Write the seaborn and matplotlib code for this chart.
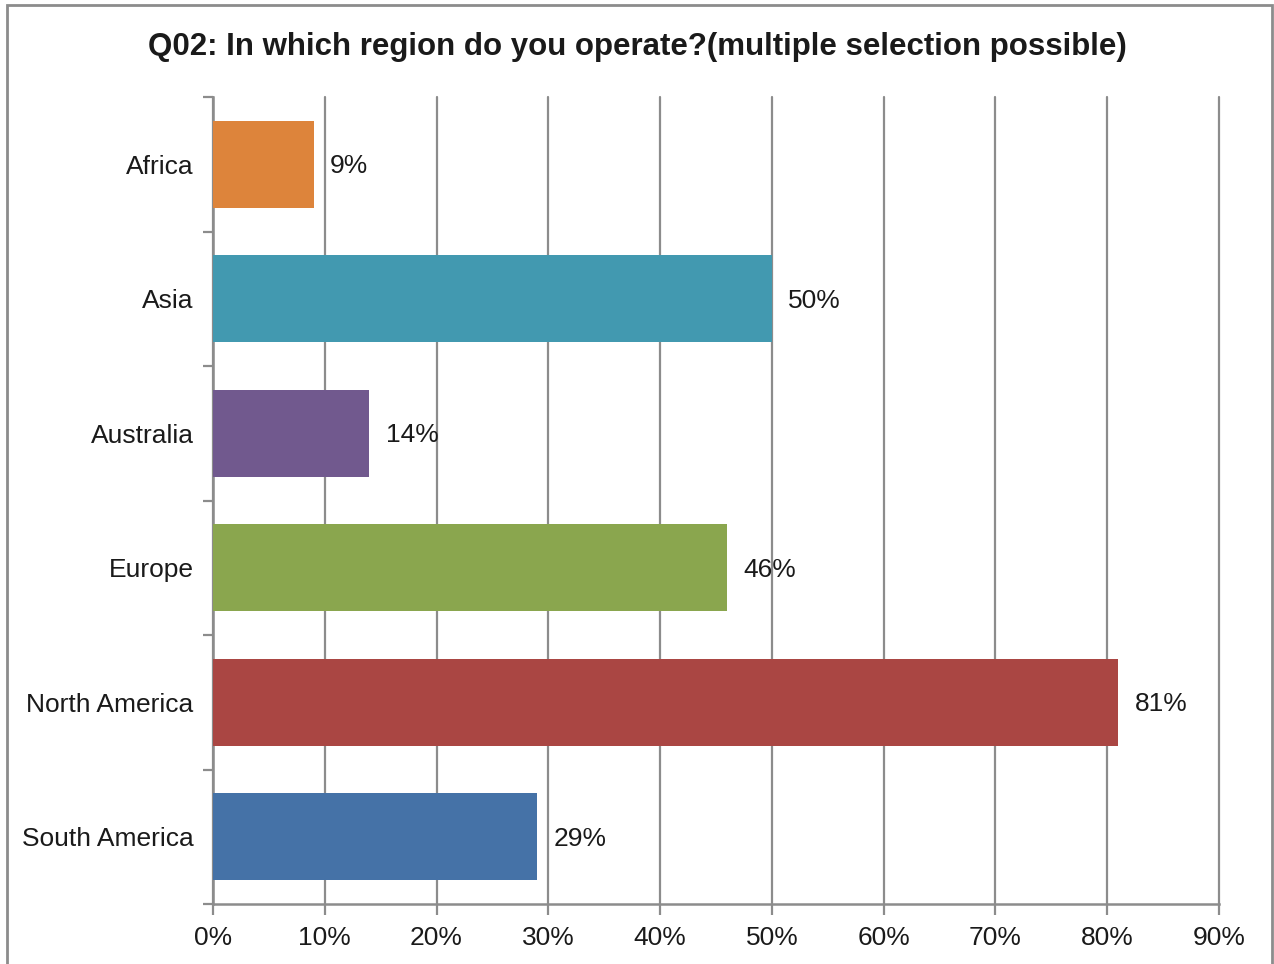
import matplotlib
matplotlib.use("Agg")
import matplotlib.pyplot as plt
import matplotlib.patches as mpatches
from matplotlib.ticker import FixedLocator, PercentFormatter
import seaborn as sns
import pandas as pd

regions = ["Africa", "Asia", "Australia", "Europe", "North America", "South America"]
shares = [9, 50, 14, 46, 81, 29]
colors = ["#DD843B", "#4299B0", "#71598E", "#8AA64E", "#AA4643", "#4572A7"]
x_ticks = [0, 10, 20, 30, 40, 50, 60, 70, 80, 90]
title = "Q02: In which region do you operate?(multiple selection possible)"

sns.set_theme(style="white")
plt.rcParams["font.family"] = ["Liberation Sans", "DejaVu Sans"]

df = pd.DataFrame({"region": regions, "share": shares})

fig = plt.figure(figsize=(12.74, 9.64), dpi=100)
ax = fig.add_axes([213 / 1274, 1 - 904 / 964, (1219 - 213) / 1274, (904 - 97) / 964])

sns.barplot(data=df, x="share", y="region", hue="region", palette=colors,
            order=regions, hue_order=regions, orient="h", width=0.65,
            saturation=1, legend=False, ax=ax, zorder=3, linewidth=0,
            edgecolor="none")

grid_c = "#8C8C8C"
ax.set_xlim(0, 90)
ax.set_ylim(len(regions) - 0.5, -0.5)
ax.xaxis.set_major_locator(FixedLocator(x_ticks))
ax.xaxis.set_major_formatter(PercentFormatter(decimals=0))
ax.grid(axis="x", color=grid_c, linewidth=1.6, zorder=0)
for gl in ax.get_xgridlines():
    gl.set_clip_on(False)
ax.set_axisbelow(True)
ax.set_xlabel("")
ax.set_ylabel("")

for s in ["top", "right"]:
    ax.spines[s].set_visible(False)
for s in ["left", "bottom"]:
    ax.spines[s].set_color(grid_c)
    ax.spines[s].set_linewidth(1.8)

label_size = 19
ax.tick_params(axis="x", which="major", direction="out", length=8, width=1.6,
               color=grid_c, labelsize=label_size, labelcolor="#1a1a1a", pad=8, bottom=True)
ax.tick_params(axis="y", which="major", length=0, labelsize=label_size,
               labelcolor="#1a1a1a", pad=14, left=False)
ax.yaxis.set_minor_locator(FixedLocator([i - 0.5 for i in range(len(regions) + 1)]))
ax.tick_params(axis="y", which="minor", direction="out", length=7, width=1.6,
               color=grid_c, left=True)

for i, v in enumerate(shares):
    ax.text(v + 1.45, i + 0.015, f"{v}%", va="center", ha="left", fontsize=label_size,
            color="#1a1a1a", zorder=4)

fig.text(0.5, 1 - 47 / 964, title, ha="center", va="center",
         fontsize=22.5, fontweight="bold", color="#1a1a1a")

frame = mpatches.Rectangle((7 / 1274, -0.05), (1272 - 7) / 1274, 1.05 - 5 / 964,
                           transform=fig.transFigure, fill=False,
                           edgecolor=grid_c, linewidth=2, clip_on=False)
fig.patches.append(frame)

fig.savefig("out.png", dpi=100)
